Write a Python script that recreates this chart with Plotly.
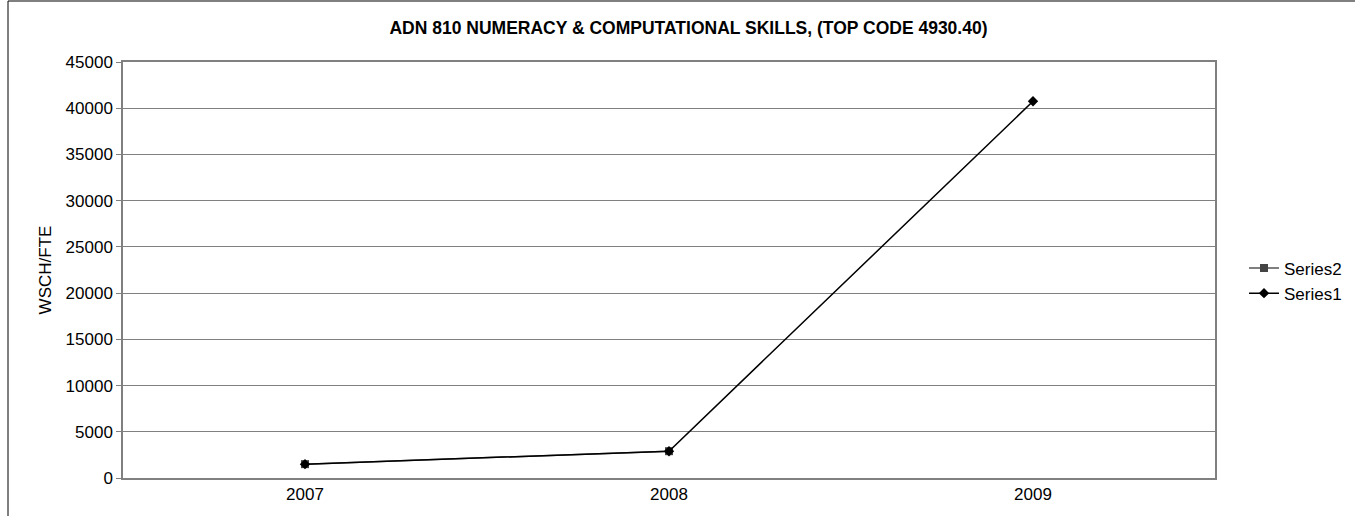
import plotly.graph_objects as go

years = ["2007", "2008", "2009"]
series2_years = ["2007", "2008"]
series2_values = [1500, 2900]
series1_values = [1500, 2900, 40750]
y_ticks = [0, 5000, 10000, 15000, 20000, 25000, 30000, 35000, 40000, 45000]

W, H = 1355, 516
L, R, T, B = 123, 1215, 62, 478
pw, ph = R - L, B - T

fig = go.Figure()
fig.add_trace(go.Scatter(
    x=series2_years, y=series2_values, name="Series2", mode="lines+markers",
    line=dict(color="#555555", width=1.5),
    marker=dict(symbol="square", size=8, color="#444444"),
))
fig.add_trace(go.Scatter(
    x=years, y=series1_values, name="Series1", mode="lines+markers",
    line=dict(color="#000000", width=1.5),
    marker=dict(symbol="diamond", size=8, color="#000000"),
))

font = "Liberation Sans, Arial, sans-serif"
fig.update_layout(
    width=W, height=H,
    margin=dict(l=L, r=W - R, t=T, b=H - B, autoexpand=False),
    paper_bgcolor="white", plot_bgcolor="white",
    font=dict(family=font, size=17, color="#000000"),
    title=dict(text="<b>ADN 810 NUMERACY & COMPUTATIONAL SKILLS, (TOP CODE 4930.40)</b>",
               x=688.5 / W, xanchor="center", y=1 - 28 / H, yanchor="middle",
               font=dict(family=font, size=17.5, color="#000000")),
    showlegend=True,
    legend=dict(x=(1244 - L) / pw, xanchor="left", y=(B - 281) / ph, yanchor="middle",
                font=dict(family=font, size=17), bgcolor="rgba(0,0,0,0)",
                itemwidth=30, tracegroupgap=0),
    xaxis=dict(type="category", range=[-0.5, 2.5], showgrid=False,
               showline=True, linecolor="#808080", linewidth=1.5, mirror=True,
               ticks="", tickfont=dict(size=17)),
    yaxis=dict(range=[0, 45000], tickvals=y_ticks, ticktext=[str(v) for v in y_ticks],
               showgrid=True, gridcolor="#808080", gridwidth=1,
               showline=True, linecolor="#808080", linewidth=1.5, mirror=True,
               ticks="outside", ticklen=5, tickcolor="#808080",
               tickfont=dict(size=17), zeroline=False,
               title=dict(text="WSCH/FTE", font=dict(size=17), standoff=10)),
)
# outer chart border (left and top visible)
fig.add_shape(type="rect", xref="paper", yref="paper",
              x0=(8 - L) / pw, x1=(W + 20 - L) / pw,
              y0=(B - (H + 20)) / ph, y1=(B - 1) / ph,
              line=dict(color="#000000", width=1), layer="below")

fig.write_html("out.html", config={"displayModeBar": False},
               post_script="document.body.style.margin='0';document.body.style.padding='0';")
